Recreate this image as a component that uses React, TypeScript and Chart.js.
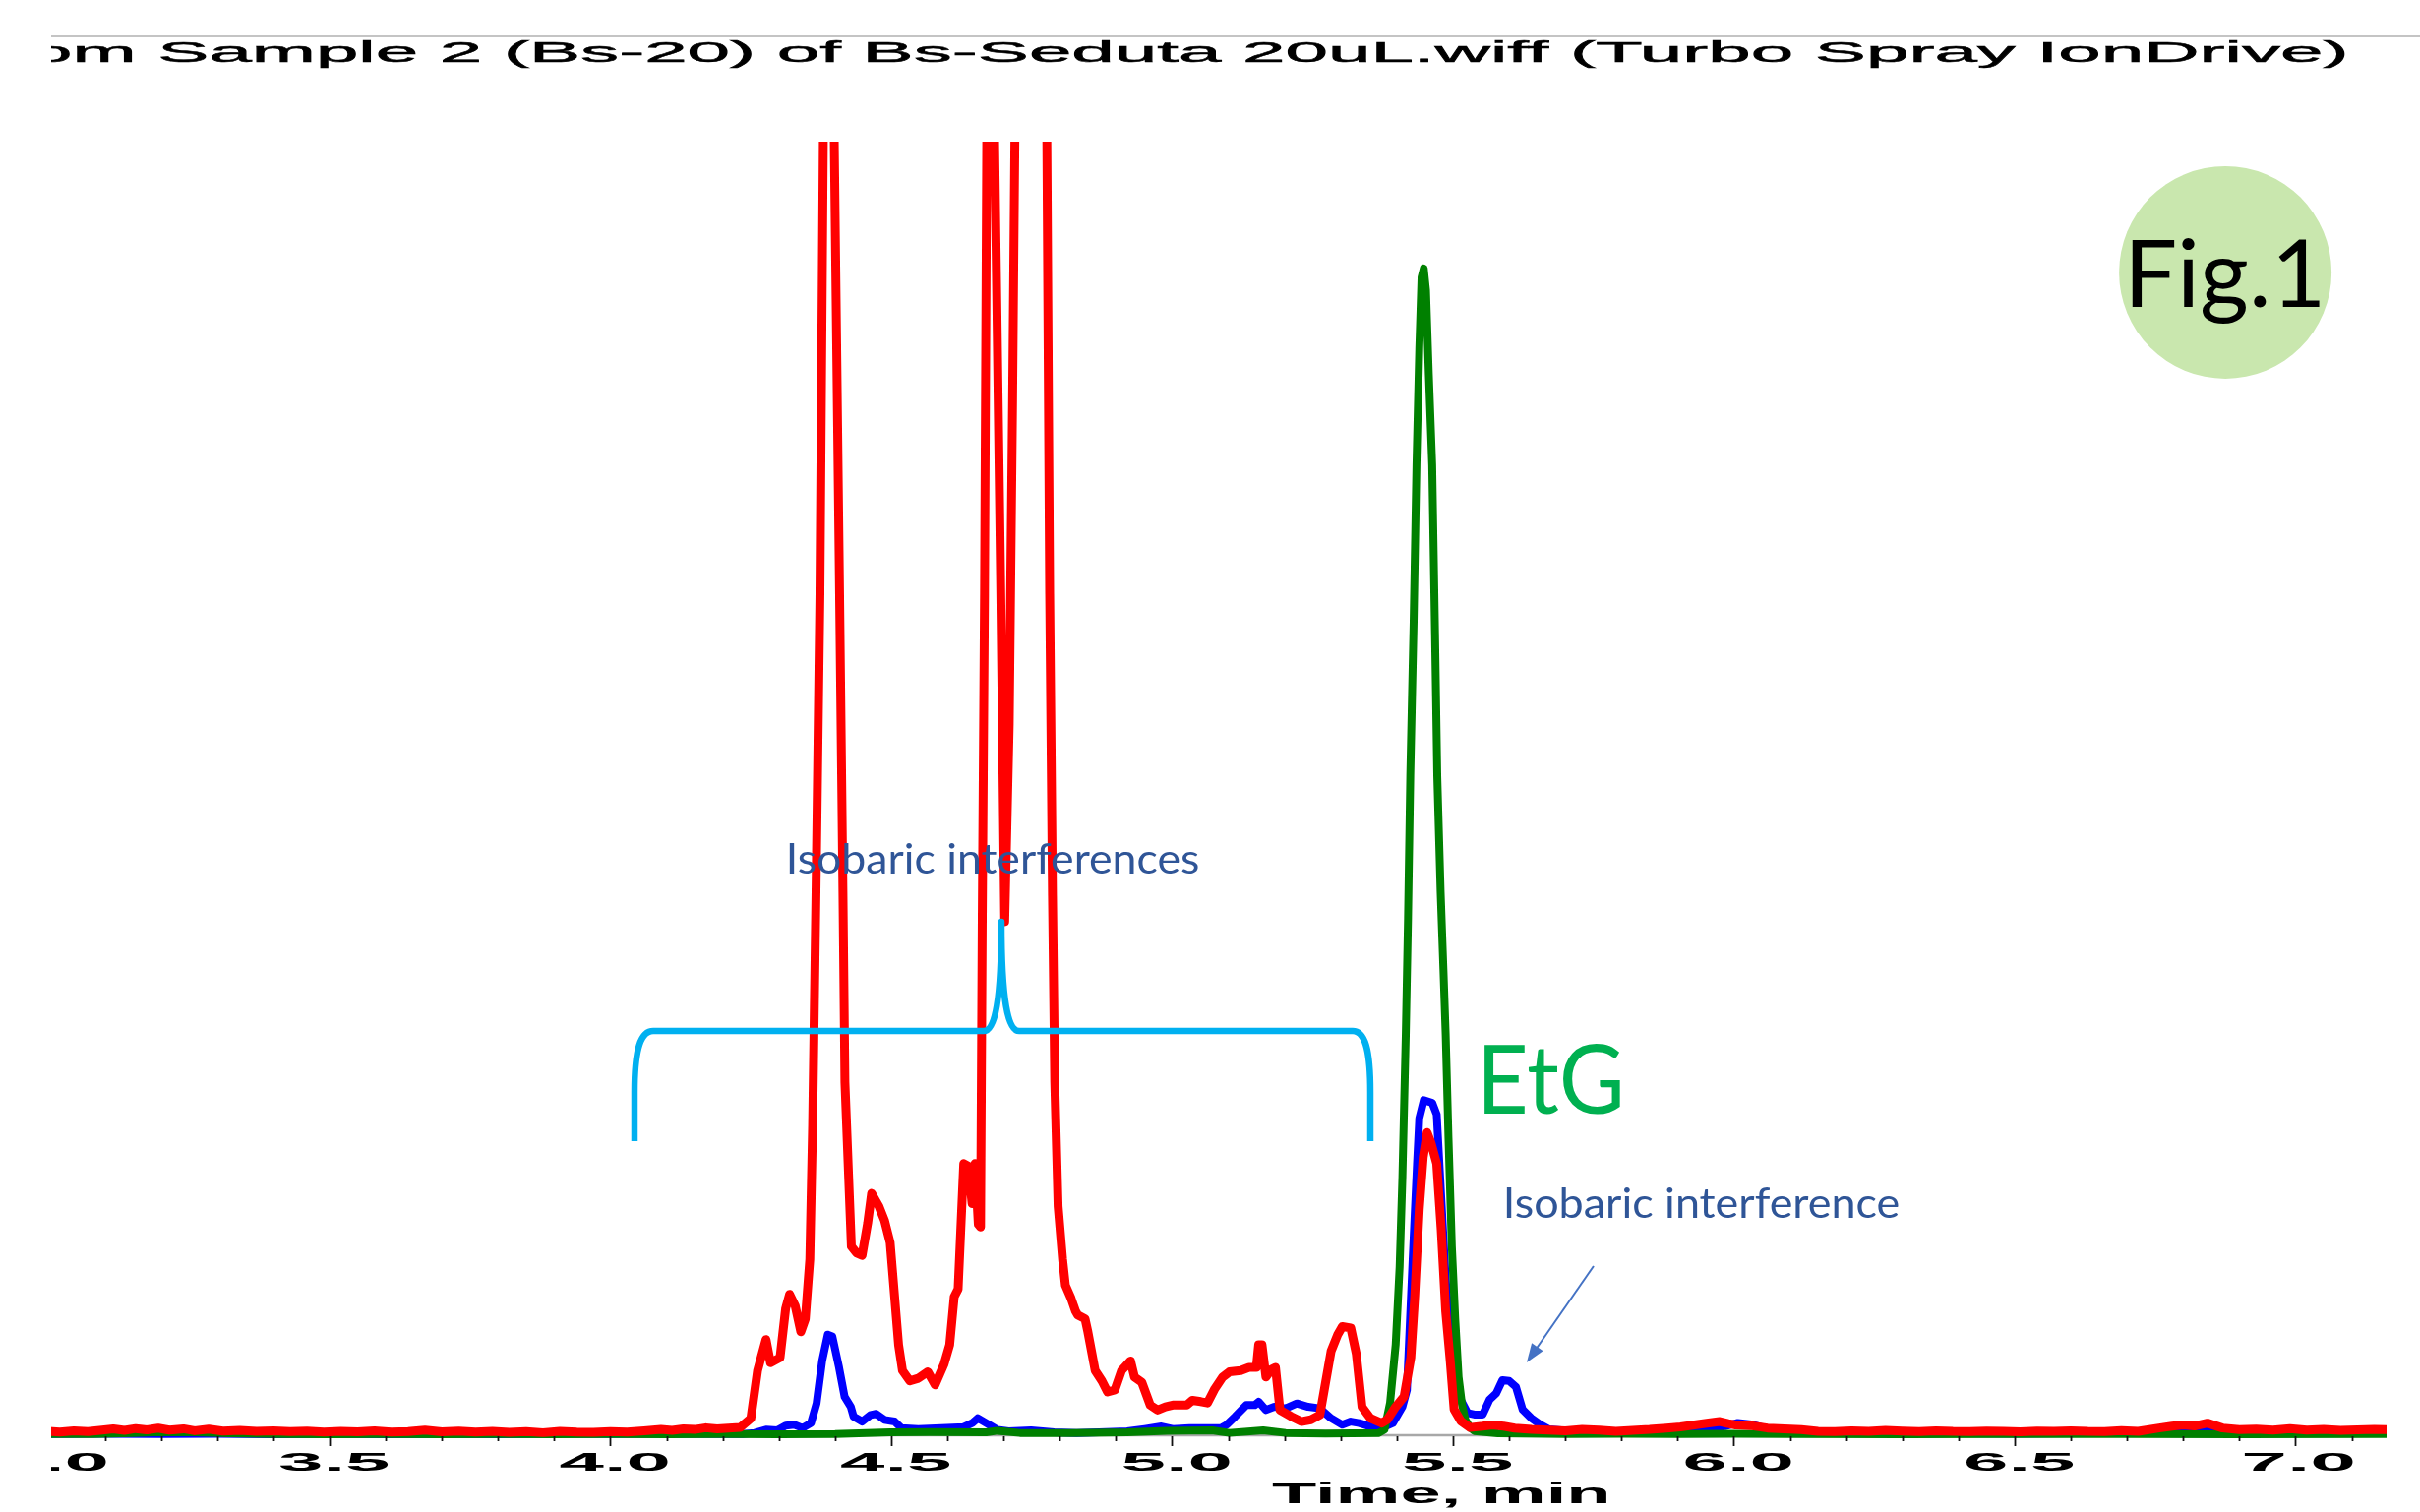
import React, { useEffect, useRef } from "react";
import { Chart, registerables } from "chart.js";

Chart.register(...registerables);

// ---------------- Data ----------------
// time in minutes, signal in % of the visible full scale
const redTime = [
  3.0, 3.02, 3.045, 3.07, 3.095, 3.115, 3.135, 3.155, 3.175, 3.195, 3.215, 3.24, 3.26, 3.285, 3.31, 3.34, 3.37, 3.4,
  3.43, 3.46, 3.49, 3.52, 3.55, 3.58, 3.61, 3.64, 3.67, 3.7, 3.73, 3.76, 3.79, 3.82, 3.85, 3.88, 3.91, 3.94, 3.97,
  4.0, 4.03, 4.06, 4.09, 4.11, 4.13, 4.15, 4.17, 4.19, 4.21, 4.231, 4.25, 4.262, 4.277, 4.285, 4.302, 4.312, 4.319,
  4.329, 4.339, 4.347, 4.355, 4.36, 4.366, 4.373, 4.379, 4.387, 4.3985, 4.408, 4.414, 4.4175, 4.429, 4.438, 4.448,
  4.458, 4.465, 4.478, 4.488, 4.498, 4.513, 4.52, 4.533, 4.548, 4.565, 4.578, 4.594, 4.604, 4.612, 4.619, 4.629,
  4.637, 4.644, 4.649, 4.655, 4.659, 4.662, 4.666, 4.67, 4.676, 4.684, 4.695, 4.702, 4.71, 4.716, 4.72, 4.728, 4.745,
  4.762, 4.777, 4.782, 4.787, 4.791, 4.797, 4.805, 4.81, 4.82, 4.828, 4.832, 4.845, 4.85, 4.863, 4.875, 4.885, 4.898,
  4.91, 4.926, 4.933, 4.946, 4.961, 4.974, 4.988, 5.001, 5.026, 5.036, 5.051, 5.063, 5.076, 5.09, 5.102, 5.122, 5.137,
  5.15, 5.154, 5.16, 5.167, 5.177, 5.184, 5.192, 5.212, 5.23, 5.247, 5.263, 5.283, 5.295, 5.303, 5.318, 5.328, 5.338,
  5.353, 5.373, 5.383, 5.398, 5.413, 5.425, 5.432, 5.44, 5.447, 5.454, 5.461, 5.471, 5.479, 5.487, 5.495, 5.502,
  5.514, 5.53, 5.553, 5.57, 5.59, 5.61, 5.64, 5.67, 5.7, 5.73, 5.76, 5.79, 5.82, 5.85, 5.88, 5.905, 5.93, 5.955,
  5.975, 5.99, 6.003, 6.03, 6.06, 6.09, 6.12, 6.15, 6.18, 6.21, 6.24, 6.27, 6.3, 6.33, 6.36, 6.39, 6.42, 6.45, 6.48,
  6.51, 6.54, 6.57, 6.6, 6.63, 6.66, 6.69, 6.72, 6.757, 6.78, 6.8, 6.82, 6.843, 6.87, 6.9, 6.93, 6.96, 6.99, 7.02,
  7.05, 7.08, 7.11, 7.14, 7.162,
];
const redSignal = [
  0.3, 0.25, 0.35, 0.28, 0.4, 0.5, 0.38, 0.52, 0.42, 0.55, 0.4, 0.5, 0.35, 0.48, 0.32, 0.38, 0.3, 0.35,
  0.28, 0.33, 0.25, 0.3, 0.26, 0.34, 0.24, 0.28, 0.4, 0.27, 0.32, 0.25, 0.3, 0.22, 0.28, 0.2, 0.3, 0.24, 0.22,
  0.28, 0.25, 0.35, 0.45, 0.38, 0.5, 0.45, 0.58, 0.5, 0.55, 0.6, 1.3, 5.0, 7.4, 5.6, 6.0, 9.8, 10.9,
  10.0, 8.0, 9.0, 13.6, 24, 42, 65, 100, 140, 100, 65, 42, 27.3, 14.6, 14.1, 13.9,
  16.4, 18.7, 17.7, 16.6, 14.9, 7.0, 5.0, 4.2, 4.4, 4.9, 3.9, 5.5, 7.0, 10.7, 11.3, 21.0,
  20.8, 17.9, 21.0, 16.3, 16.1, 40, 65, 100, 130, 100, 65, 39.7, 55, 80, 100, 135, 160,
  140, 100, 65, 41.7, 27.3, 17.7, 13.6, 11.6, 10.6, 9.6, 9.3, 9.0, 8.0, 5.0, 4.2, 3.35, 3.5,
  5.0, 5.75, 4.5, 4.1, 2.33, 1.95, 2.2, 2.33, 2.33, 2.7, 2.6, 2.5, 3.6, 4.5, 4.9, 5.0, 5.25,
  5.25, 7.0, 7.0, 4.5, 5.1, 5.25, 1.95, 1.45, 1.06, 1.2, 1.57, 6.5, 7.8, 8.4, 8.3, 6.26, 2.2,
  1.32, 0.94, 1.2, 2.2, 3.0, 6.0, 10.8, 17.5, 21.5, 23.4, 22.6, 21.0, 15.9, 9.6, 5.8, 2.0,
  1.1, 0.6, 0.7, 0.8, 0.7, 0.55, 0.45, 0.4, 0.35, 0.45, 0.4, 0.3, 0.38, 0.45, 0.55, 0.65, 0.8, 0.95,
  1.06, 0.9, 0.8, 0.75, 0.56, 0.5, 0.43, 0.3, 0.28, 0.35, 0.3, 0.38, 0.32, 0.28, 0.35, 0.3, 0.28, 0.33, 0.3,
  0.26, 0.32, 0.3, 0.35, 0.3, 0.28, 0.36, 0.3, 0.56, 0.7, 0.8, 0.72, 0.94, 0.56, 0.43, 0.48, 0.4, 0.52, 0.4,
  0.45, 0.38, 0.42, 0.45, 0.43,
];

const blueTime = [
  3.0, 3.1, 3.2, 3.3, 3.4, 3.5, 3.6, 3.7, 3.8, 3.9, 4.0, 4.1, 4.2, 4.236, 4.257, 4.277, 4.297, 4.312, 4.327, 4.342,
  4.357, 4.367, 4.377, 4.387, 4.395, 4.407, 4.417, 4.428, 4.433, 4.448, 4.463, 4.473, 4.488, 4.506, 4.518, 4.548,
  4.589, 4.629, 4.644, 4.654, 4.669, 4.689, 4.709, 4.749, 4.79, 4.83, 4.87, 4.92, 4.951, 4.981, 5.001, 5.031, 5.061,
  5.087, 5.097, 5.112, 5.132, 5.147, 5.154, 5.167, 5.182, 5.202, 5.222, 5.242, 5.263, 5.283, 5.303, 5.318, 5.333,
  5.353, 5.373, 5.393, 5.41, 5.418, 5.428, 5.436, 5.44, 5.448, 5.463, 5.471, 5.479, 5.487, 5.498, 5.514, 5.526,
  5.538, 5.553, 5.565, 5.577, 5.588, 5.6, 5.612, 5.624, 5.639, 5.655, 5.671, 5.71, 5.749, 5.79, 5.827, 5.87, 5.905,
  5.944, 5.984, 6.007, 6.031, 6.062, 6.101, 6.2, 6.3, 6.4, 6.5, 6.6, 6.7, 6.78, 6.83, 6.88, 7.0, 7.08, 7.13, 7.162,
];
const blueSignal = [
  0.1, 0.12, 0.1, 0.12, 0.08, 0.1, 0.08, 0.1, 0.08, 0.12, 0.1, 0.12, 0.1, 0.1, 0.18, 0.43, 0.38, 0.74, 0.81, 0.56,
  0.94, 2.46, 5.75, 7.78, 7.65, 5.25, 2.97, 2.2, 1.44, 1.06, 1.57, 1.65, 1.19, 1.06, 0.56, 0.48,
  0.56, 0.63, 0.94, 1.32, 0.94, 0.43, 0.3, 0.38, 0.23, 0.18, 0.23, 0.3, 0.48, 0.68, 0.48, 0.56, 0.56,
  0.56, 0.81, 1.44, 2.33, 2.33, 2.59, 1.95, 2.2, 2.08, 2.46, 2.2, 2.08, 1.32, 0.81, 1.06, 0.94,
  0.68, 0.56, 0.94, 2.2, 3.5, 13.4, 21.0, 24.5, 25.9, 25.7, 24.8, 18.45, 12.1, 5.8, 2.74, 1.72,
  1.6, 1.6, 2.74, 3.24, 4.26, 4.2, 3.75, 1.98, 1.34, 0.84, 0.46, 0.33, 0.2, 0.18, 0.2, 0.28, 0.33,
  0.46, 0.7, 0.96, 0.84, 0.46, 0.2, 0.15, 0.12, 0.15, 0.12, 0.15, 0.15, 0.3, 0.35, 0.2, 0.15, 0.18, 0.3, 0.25,
];

const greenTime = [
  3.0, 3.08, 3.15, 3.2, 3.26, 3.32, 3.4, 3.5, 3.6, 3.7, 3.8, 3.9, 4.0, 4.1, 4.2, 4.3, 4.4, 4.498, 4.568, 4.669, 4.689,
  4.729, 4.82, 4.92, 4.991, 5.071, 5.102, 5.162, 5.202, 5.273, 5.368, 5.378, 5.388, 5.398, 5.405, 5.41, 5.416, 5.42,
  5.424, 5.43, 5.435, 5.44, 5.444, 5.448, 5.452, 5.457, 5.463, 5.468, 5.472, 5.478, 5.483, 5.487, 5.492, 5.498,
  5.504, 5.51, 5.516, 5.522, 5.53, 5.538, 5.58, 5.7, 5.8, 5.9, 6.0, 6.1, 6.3, 6.5, 6.7, 6.9, 7.162,
];
const greenSignal = [
  0.1, 0.1, 0.18, 0.25, 0.22, 0.15, 0.1, 0.08, 0.1, 0.08, 0.1, 0.08, 0.1, 0.08, 0.1, 0.08, 0.1, 0.23, 0.25, 0.23, 0.35,
  0.18, 0.18, 0.23, 0.35, 0.38, 0.18, 0.38, 0.18, 0.13, 0.18, 0.43, 2.5, 7.0, 13, 20, 31, 40,
  51, 63, 75, 84, 89.5, 90.2, 88.5, 82, 75, 62, 51, 42, 36, 31, 23, 14.6,
  9, 4.5, 2.4, 1.2, 0.6, 0.33, 0.15, 0.1, 0.12, 0.1, 0.12, 0.1, 0.08, 0.1, 0.1, 0.08, 0.1,
];

const xMin = 3.0;
const xMax = 7.162;
const xMajorTicks = [3.0, 3.5, 4.0, 4.5, 5.0, 5.5, 6.0, 6.5, 7.0];
const xMajorLabels = ["3.0", "3.5", "4.0", "4.5", "5.0", "5.5", "6.0", "6.5", "7.0"];
const xMinorStep = 0.1;
const xAxisTitle = "Time, min";
const titlePrefix = "from ";
const titleTail = "Sample 2 (Bs-20) of Bs-Seduta 20uL.wiff (Turbo Spray IonDrive)";

const annIsobaricMany = "Isobaric interferences";
const annIsobaricOne = "Isobaric interference";
const annEtG = "EtG";
const annFig = "Fig.1";

// ---------------- Helpers ----------------
const AXIS_FONT = '"Liberation Sans", Arial, sans-serif';
const ANN_FONT = 'Lato, "Open Sans", sans-serif';

function fitText(
  ctx: CanvasRenderingContext2D,
  text: string,
  inkLeft: number,
  baseline: number,
  inkWidth: number,
  font: string,
  color: string,
  embolden = 0
) {
  ctx.save();
  ctx.font = font;
  ctx.textAlign = "left";
  ctx.textBaseline = "alphabetic";
  const m = ctx.measureText(text);
  const ink = m.actualBoundingBoxLeft + m.actualBoundingBoxRight;
  const sx = inkWidth / ink;
  ctx.translate(inkLeft + m.actualBoundingBoxLeft * sx, baseline);
  ctx.scale(sx, 1);
  ctx.fillStyle = color;
  ctx.fillText(text, 0, 0);
  if (embolden > 0) {
    ctx.strokeStyle = color;
    ctx.lineWidth = embolden;
    ctx.lineJoin = "round";
    ctx.strokeText(text, 0, 0);
  }
  ctx.restore();
}

const axisPlugin = {
  id: "axisPlugin",
  beforeDatasetsDraw(chart: any) {
    const { ctx, chartArea } = chart;
    ctx.save();
    ctx.strokeStyle = "#A8A8A8";
    ctx.lineWidth = 2.5;
    ctx.beginPath();
    ctx.moveTo(chartArea.left, chartArea.bottom);
    ctx.lineTo(chartArea.right, chartArea.bottom);
    ctx.stroke();
    ctx.restore();
  },
  afterDraw(chart: any) {
    const { ctx, chartArea, scales } = chart;
    const xs = scales.x;
    const ys = scales.y;
    const px = (t: number) => xs.getPixelForValue(t);
    const py = (v: number) => ys.getPixelForValue(v);
    const base = chartArea.bottom;

    // ticks
    ctx.save();
    ctx.strokeStyle = "#111";
    ctx.lineWidth = 1.8;
    const nSteps = Math.round((xMax - xMin) / xMinorStep);
    for (let k = 0; k <= nSteps; k++) {
      const v = xMin + k * xMinorStep;
      if (v > xMax + 1e-9) break;
      const major = Math.abs(v * 2 - Math.round(v * 2)) < 1e-6;
      const x = Math.round(px(v)) + 0.5;
      ctx.beginPath();
      ctx.moveTo(x, base + 1);
      ctx.lineTo(x, base + (major ? 11 : 6));
      ctx.stroke();
    }
    ctx.restore();

    // tick labels
    xMajorTicks.forEach((v, i) => {
      const c = px(v) + 4;
      fitText(ctx, xMajorLabels[i], c - 56, base + 36, 112, `bold 26px ${AXIS_FONT}`, "#000");
    });

    // axis title
    fitText(ctx, xAxisTitle, 1293, base + 69, 342, `bold 29.5px ${AXIS_FONT}`, "#000");

    // top rule and title
    ctx.save();
    ctx.strokeStyle = "#C4C4C4";
    ctx.lineWidth = 2;
    ctx.beginPath();
    ctx.moveTo(52, 37);
    ctx.lineTo(chart.width, 37);
    ctx.stroke();
    ctx.font = `29px ${AXIS_FONT}`;
    ctx.textAlign = "left";
    ctx.textBaseline = "alphabetic";
    const mt = ctx.measureText(titleTail);
    const sxT = (2383 - 163) / (mt.actualBoundingBoxLeft + mt.actualBoundingBoxRight);
    const x0 = 163 + mt.actualBoundingBoxLeft * sxT;
    const pw = ctx.measureText(titlePrefix).width * sxT;
    ctx.translate(x0 - pw, 63);
    ctx.scale(sxT, 1);
    ctx.fillStyle = "#000";
    ctx.fillText(titlePrefix + titleTail, 0, 0);
    ctx.strokeStyle = "#000";
    ctx.lineWidth = 0.5;
    ctx.strokeText(titlePrefix + titleTail, 0, 0);
    ctx.restore();

    // ---- annotations ----
    // brace
    ctx.save();
    ctx.strokeStyle = "#00B0F0";
    ctx.lineWidth = 6.5;
    ctx.lineJoin = "round";
    ctx.beginPath();
    ctx.moveTo(px(4.0429), py(22.74));
    ctx.lineTo(px(4.0429), py(26.5));
    ctx.bezierCurveTo(px(4.0429), py(29.9), px(4.054), py(31.25), px(4.0762), py(31.25));
    ctx.lineTo(px(4.6646), py(31.25));
    ctx.bezierCurveTo(px(4.6846), py(31.25), px(4.6961), py(33.6), px(4.6961), py(39.7));
    ctx.bezierCurveTo(px(4.6961), py(33.6), px(4.7076), py(31.25), px(4.7277), py(31.25));
    ctx.lineTo(px(5.3214), py(31.25));
    ctx.bezierCurveTo(px(5.343), py(31.25), px(5.3529), py(29.9), px(5.3529), py(26.5));
    ctx.lineTo(px(5.3529), py(22.74));
    ctx.stroke();
    ctx.restore();

    fitText(ctx, annIsobaricMany, px(4.3179), py(43.42), 416, `42px ${ANN_FONT}`, "#2F5597");
    fitText(ctx, annIsobaricOne, px(5.5946), py(16.81), 399, `42px ${ANN_FONT}`, "#2F5597");
    fitText(ctx, annEtG, px(5.5552), py(24.87), 138.5, `96px ${ANN_FONT}`, "#00B050");

    // arrow
    ctx.save();
    const ax0 = px(5.7504), ay0 = py(13.08);
    const ax1 = px(5.6313), ay1 = py(5.63);
    const ang = Math.atan2(ay1 - ay0, ax1 - ax0);
    const headLen = 19, headW = 7;
    ctx.strokeStyle = "#4472C4";
    ctx.fillStyle = "#4472C4";
    ctx.lineWidth = 2;
    ctx.beginPath();
    ctx.moveTo(ax0, ay0);
    ctx.lineTo(ax1 - Math.cos(ang) * headLen * 0.8, ay1 - Math.sin(ang) * headLen * 0.8);
    ctx.stroke();
    ctx.beginPath();
    ctx.moveTo(ax1, ay1);
    const bx = ax1 - Math.cos(ang) * headLen, by = ay1 - Math.sin(ang) * headLen;
    ctx.lineTo(bx + Math.sin(ang) * headW, by - Math.cos(ang) * headW);
    ctx.lineTo(bx - Math.sin(ang) * headW, by + Math.cos(ang) * headW);
    ctx.closePath();
    ctx.fill();
    ctx.restore();

    // Fig.1 badge
    ctx.save();
    ctx.fillStyle = "#C9E7AE";
    ctx.beginPath();
    ctx.arc(px(6.875), py(89.89), 108, 0, Math.PI * 2);
    ctx.fill();
    ctx.restore();
    fitText(ctx, annFig, px(6.875) - 95, py(87.22), 191, `95px ${ANN_FONT}`, "#000");

    // left strip of the reference is blank
    ctx.save();
    ctx.fillStyle = "#FFFFFF";
    ctx.fillRect(0, 0, 52, chart.height);
    ctx.restore();
  },
};

function toPoints(times: number[], values: number[]) {
  return times.map((t, i) => ({ x: t, y: values[i] }));
}

export default function App() {
  const canvasRef = useRef<HTMLCanvasElement | null>(null);

  useEffect(() => {
    const canvas = canvasRef.current;
    if (!canvas) return;
    const clip = { left: 0, top: 0, right: 0, bottom: 8 } as any;
    const common = {
      pointRadius: 0,
      tension: 0,
      fill: false,
      clip,
      borderJoinStyle: "round" as const,
      borderCapStyle: "round" as const,
    };
    const chart = new Chart(canvas, {
      type: "line",
      data: {
        datasets: [
          { label: "red", data: toPoints(redTime, redSignal), borderColor: "#FF0000", borderWidth: 9, ...common },
          { label: "green", data: toPoints(greenTime, greenSignal), borderColor: "#008000", borderWidth: 8, ...common },
          { label: "blue", data: toPoints(blueTime, blueSignal), borderColor: "#0000FF", borderWidth: 8, ...common },
        ],
      },
      options: {
        animation: false,
        responsive: false,
        maintainAspectRatio: false,
        events: [],
        layout: { padding: { left: 49.5, right: 34, top: 144, bottom: 78 } },
        scales: {
          x: { type: "linear", display: false, min: xMin, max: xMax },
          y: { type: "linear", display: false, min: 0, max: 100 },
        },
        plugins: {
          legend: { display: false },
          tooltip: { enabled: false },
          title: { display: false },
        },
      },
      plugins: [axisPlugin],
    } as any);
    return () => chart.destroy();
  }, []);

  return (
    <div style={{ position: "fixed", left: 0, top: 0, width: 2460, height: 1537, background: "#fff" }}>
      <canvas ref={canvasRef} width={2460} height={1537} style={{ display: "block", width: 2460, height: 1537 }} />
    </div>
  );
}
